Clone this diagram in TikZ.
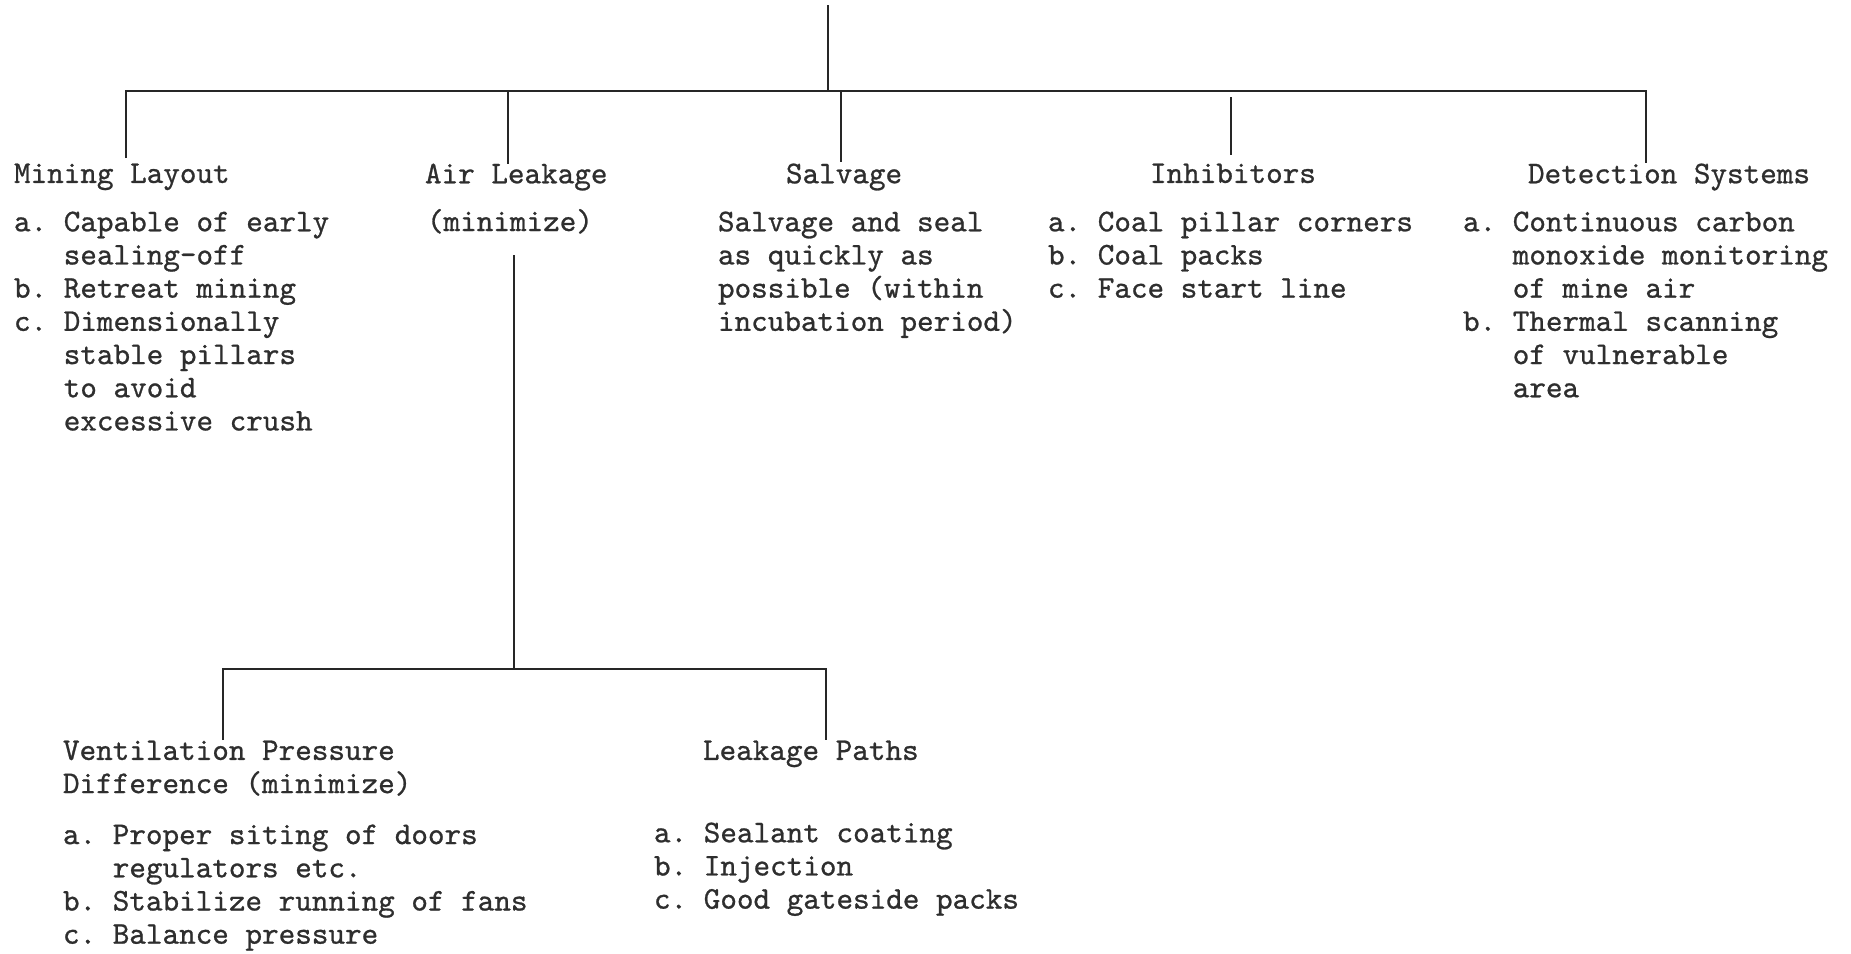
\documentclass[tikz,border=0pt]{standalone}
\usepackage{fontspec}
\newfontfamily\tw{lmmono10-regular.otf}[FakeBold=0.8]
\begin{document}
\newcommand\ind{\hphantom{a.~}}
\begin{tikzpicture}[x=0.5pt,y=-0.5pt,
  ln/.style={line width=1.3pt, draw=black!85},
  txtbase/.style={inner sep=0pt, outer sep=0pt, align=left, text=black!82,
    font=\fontsize{15.8}{16.6}\selectfont\tw\frenchspacing},
  txt/.style={txtbase, anchor=north west, yshift=9.7pt},
  txtb/.style={txtbase, anchor=base west}]
\fill[white] (0,0) rectangle (1851,953);
\useasboundingbox (0,0) rectangle (1851,953);

% top-level texts
\node[txt] (mlT) at (14,183) {Mining Layout};
\node[txt] (mlB) at (14,231) {a. Capable of early\\ \ind sealing-off\\ b. Retreat mining\\ c. Dimensionally\\ \ind stable pillars\\ \ind to avoid\\ \ind excessive crush};
\node[txt] (alT) at (425,183) {Air Leakage};
\node[txtb] (alS) at (427,231) {(minimize)};
\node[txt] (svT) at (786,183) {Salvage};
\node[txt] (svB) at (718,231) {Salvage and seal\\ as quickly as\\ possible (within\\ incubation period)};
\node[txt] (inT) at (1150,183) {Inhibitors};
\node[txt] (inB) at (1048,231) {a. Coal pillar corners\\ b. Coal packs\\ c. Face start line};
\node[txt] (dsT) at (1528,183) {Detection Systems};
\node[txt] (dsB) at (1463,231) {a. Continuous carbon\\ \ind monoxide monitoring\\ \ind of mine air\\ b. Thermal scanning\\ \ind of vulnerable\\ \ind area};

% second level texts
\node[txt] (vpT) at (63,760) {Ventilation Pressure\\ Difference (minimize)};
\node[txt] (vpB) at (63,844) {a. Proper siting of doors\\ \ind regulators etc.\\ b. Stabilize running of fans\\ c. Balance pressure};
\node[txt] (lpT) at (703,760) {Leakage Paths};
\node[txt] (lpB) at (654,842) {a. Sealant coating\\ b. Injection\\ c. Good gateside packs};

% connector coordinates
\coordinate (top) at (828,5);
\coordinate (jTop) at (828,91);
\coordinate (bL) at (126,91);
\coordinate (bR) at (1646,91);
\coordinate (dML) at (126,158);
\coordinate (jAL) at (508,91);
\coordinate (dAL) at (508,164);
\coordinate (jSV) at (841,91);
\coordinate (dSV) at (841,162);
\coordinate (uIN) at (1231,97);
\coordinate (dIN) at (1231,155);
\coordinate (dDS) at (1646,163);
\coordinate (alDown) at (514,255);
\coordinate (jLow) at (514,669);
\coordinate (lbL) at (223,669);
\coordinate (lbR) at (826,669);
\coordinate (dVP) at (223,740);
\coordinate (dLP) at (826,740);

\draw[ln] (top) -- (jTop);
\draw[ln] (dML) -- (bL) -- (bR) -- (dDS);
\draw[ln] (jAL) -- (dAL);
\draw[ln] (jSV) -- (dSV);
\draw[ln] (uIN) -- (dIN);
\draw[ln] (alDown) -- (jLow);
\draw[ln] (dVP) -- (lbL) -- (lbR) -- (dLP);
\end{tikzpicture}
\end{document}
